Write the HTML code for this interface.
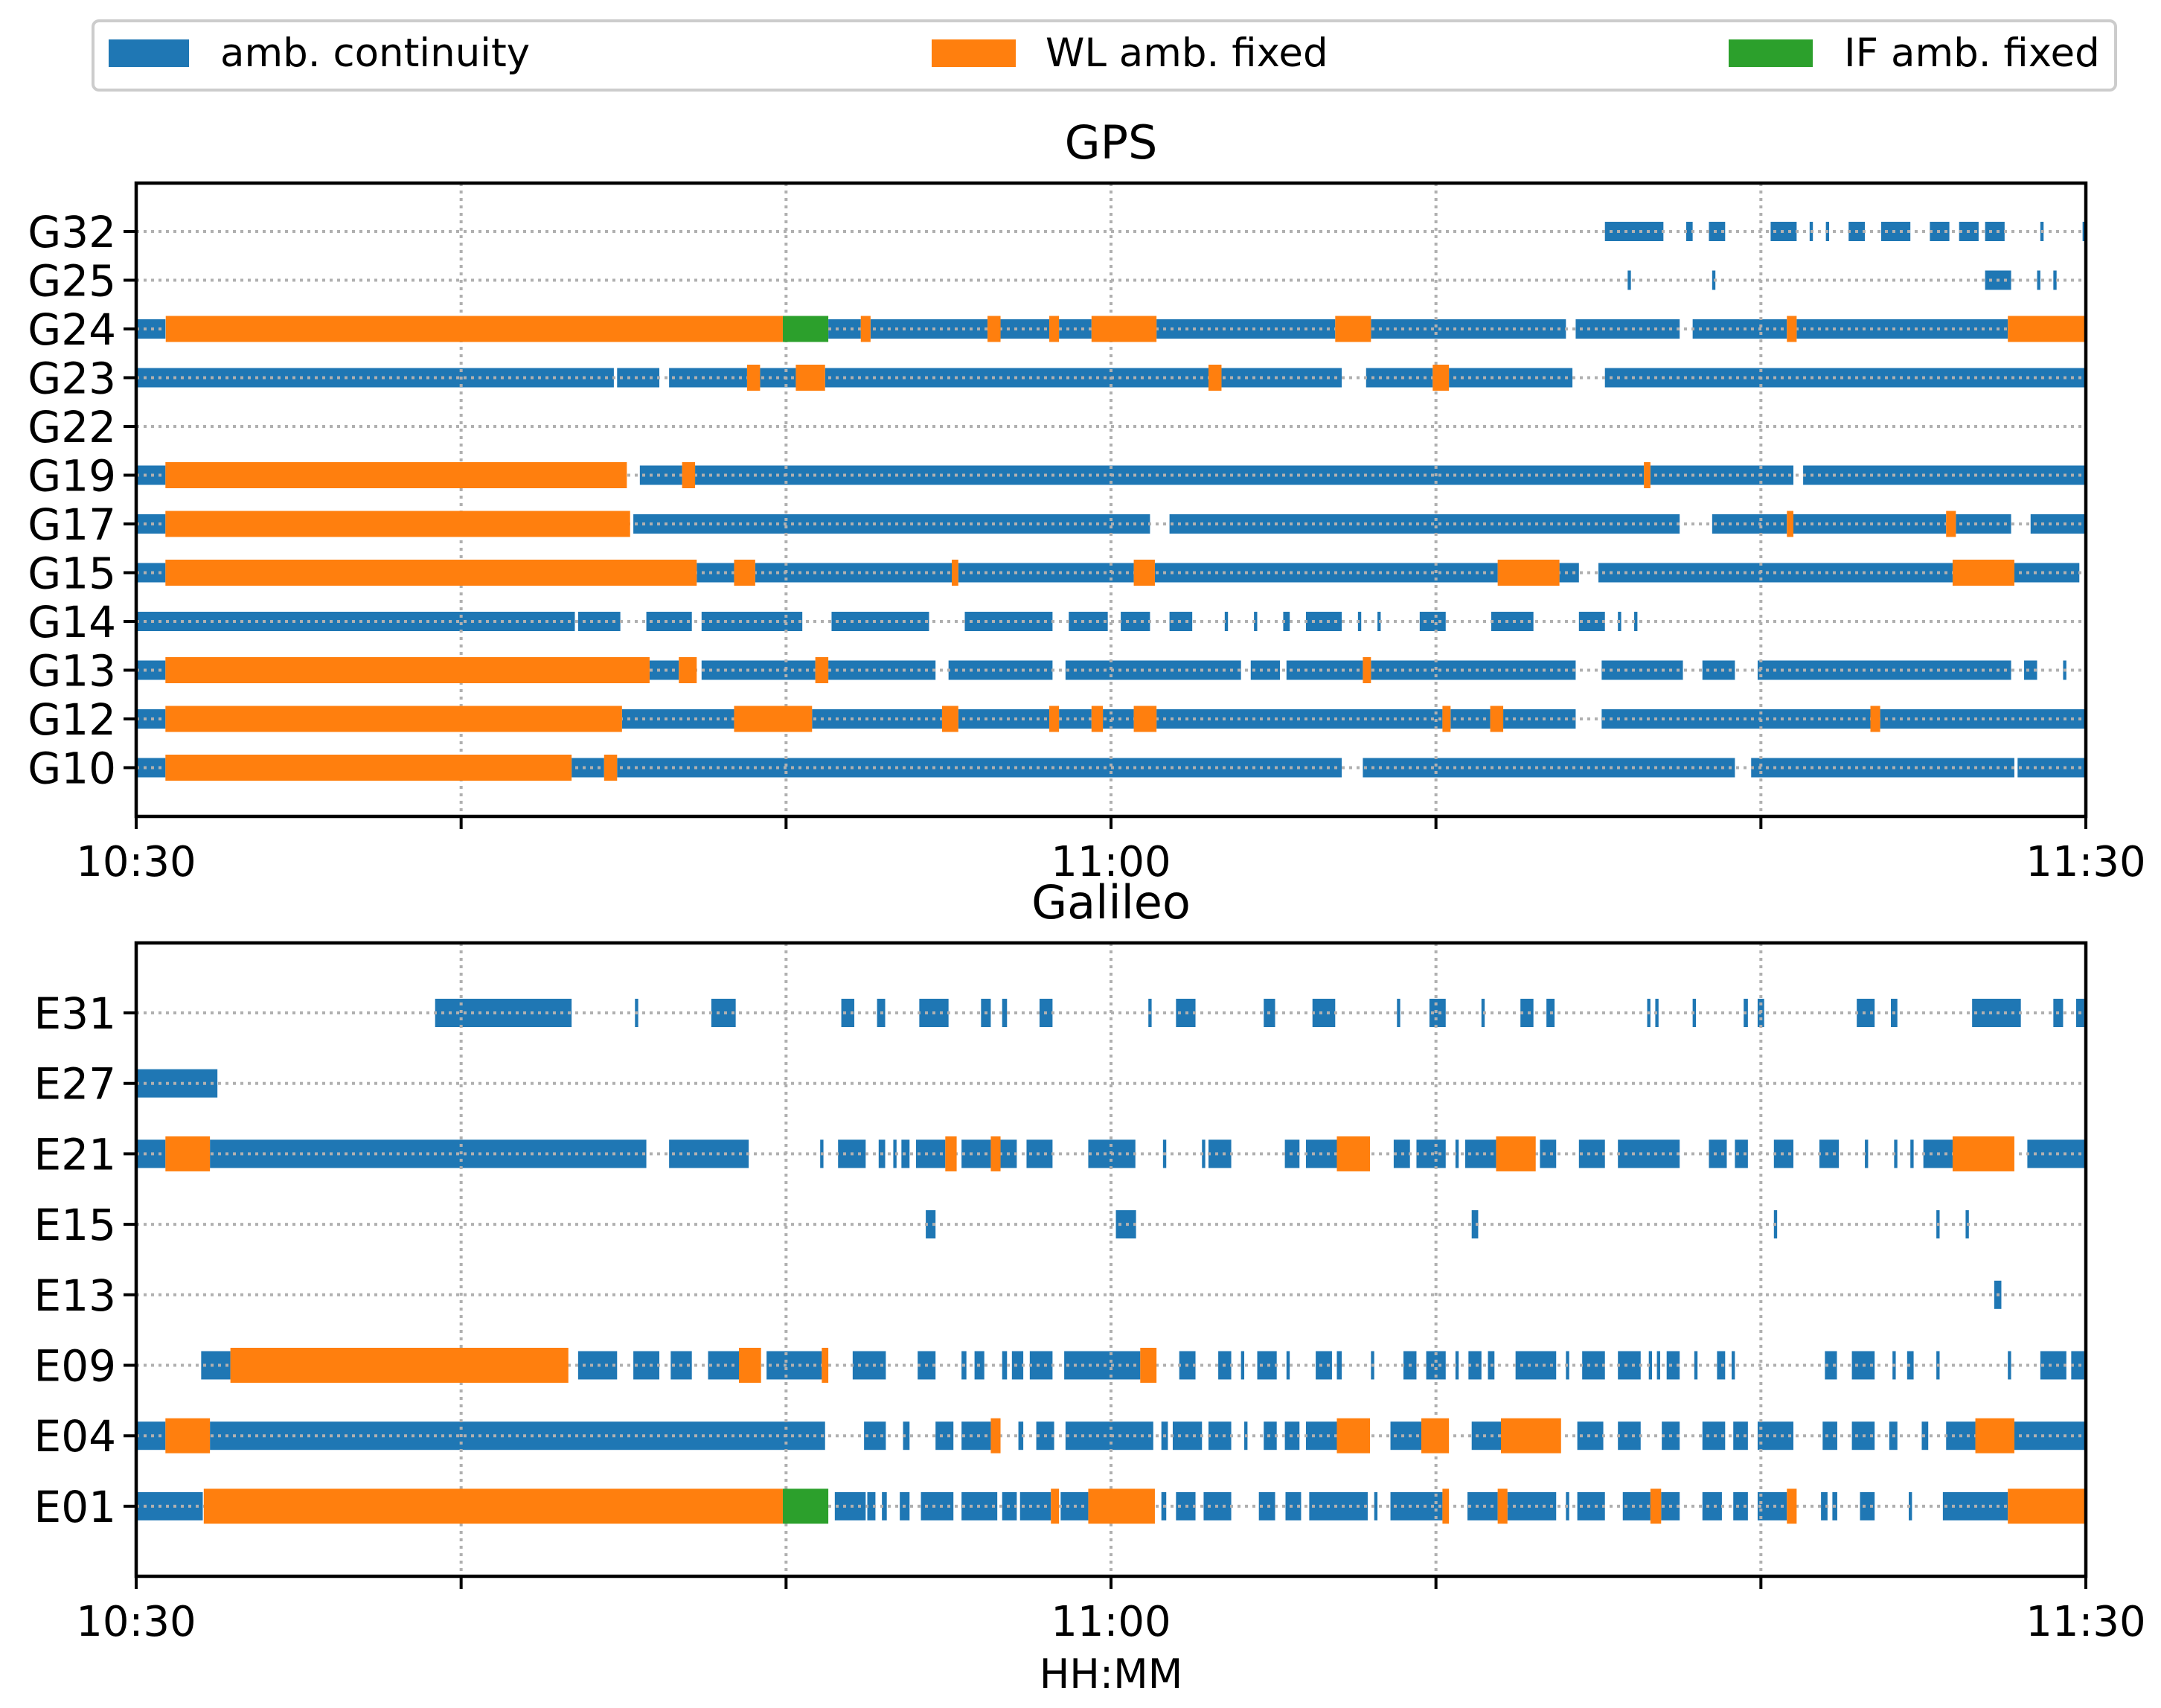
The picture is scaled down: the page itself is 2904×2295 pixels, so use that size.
<!DOCTYPE html>
<html><head><meta charset="utf-8">
<style>
html,body{margin:0;padding:0;background:#fff;}
svg{display:block;font-family:"DejaVu Sans","Liberation Sans",sans-serif;}
</style></head>
<body>
<svg id="chart" width="2904" height="2295" viewBox="0 0 2904 2295" xmlns="http://www.w3.org/2000/svg">
  <g>
    <rect x="125" y="28" width="2718" height="93" rx="8" fill="#fff" stroke="#cccccc" stroke-width="4"/>
    <rect x="146" y="53" width="108" height="37" fill="#1f77b4"/>
    <text x="296" y="89" font-size="53">amb. continuity</text>
    <rect x="1252" y="53" width="113" height="37" fill="#ff7f0e"/>
    <text x="1405" y="89" font-size="53">WL amb. fixed</text>
    <rect x="2323" y="53" width="113" height="37" fill="#2ca02c"/>
    <text x="2478" y="89" font-size="53">IF amb. fixed</text>
  </g>
  <text x="1493" y="213" font-size="62" text-anchor="middle">GPS</text>
  <text x="1493" y="1234" font-size="62" text-anchor="middle">Galileo</text>
  <text x="1493" y="2268" font-size="54" text-anchor="middle">HH:MM</text>
  <g id="gps"></g>
  <g id="gal"></g>
</svg>
<script>
const xTicks = [0,10,20,30,40,50,60];
const xTickLabels = {0:"10:30",30:"11:00",60:"11:30"};
const gpsSats = ["G32","G25","G24","G23","G22","G19","G17","G15","G14","G13","G12","G10"];
const gpsBlue = {
G32:[[45.2,47.0],[47.7,47.9],[48.4,48.9],[50.3,51.1],[51.5,51.6],[52.0,52.1],[52.7,53.2],[53.7,54.6],[55.2,55.8],[56.1,56.7],[56.9,57.5],[58.6,58.7],[59.9,60]],
G25:[[45.9,46.0],[48.5,48.6],[56.9,57.7],[58.5,58.6],[59.0,59.1]],
G24:[[0,0.9],[21.3,22.3],[22.6,26.2],[26.6,28.1],[28.4,29.4],[31.4,36.9],[38,44.0],[44.3,47.5],[47.9,50.8],[51.1,57.6]],
G23:[[0,14.7],[14.8,16.1],[16.4,18.8],[19.2,20.3],[21.2,33.0],[33.4,37.1],[37.85,39.9],[40.4,44.2],[45.2,60]],
G22:[],
G19:[[0,0.9],[15.5,16.8],[17.2,46.4],[46.6,51.0],[51.3,60]],
G17:[[0,0.9],[15.3,31.2],[31.8,47.5],[48.5,50.8],[51.0,55.7],[56.0,57.7],[58.3,60]],
G15:[[0,0.9],[17.25,18.4],[19.05,25.1],[25.3,30.7],[31.35,41.9],[43.8,44.4],[45.0,55.9],[57.8,59.8]],
G14:[[0,13.5],[13.6,14.9],[15.7,17.1],[17.4,20.5],[21.4,24.4],[25.5,28.2],[28.7,29.9],[30.3,31.2],[31.8,32.5],[33.5,33.6],[34.4,34.5],[35.3,35.5],[36.0,37.1],[37.6,37.7],[38.2,38.3],[39.5,40.3],[41.7,43.0],[44.4,45.2],[45.6,45.7],[46.1,46.2]],
G13:[[0,0.9],[15.8,16.7],[17.4,20.9],[21.3,24.6],[25.0,28.2],[28.6,34.0],[34.3,35.2],[35.4,37.75],[38.0,44.3],[45.1,47.6],[48.2,49.2],[49.9,57.7],[58.1,58.5],[59.3,59.4]],
G12:[[0,0.9],[14.95,18.4],[20.8,24.8],[25.3,28.1],[28.4,29.4],[29.75,30.7],[31.4,40.2],[40.45,41.67],[42.07,44.3],[45.1,53.37],[53.67,60]],
G10:[[0,0.9],[13.4,14.4],[14.8,37.1],[37.75,49.2],[49.7,57.8],[57.9,60]]
};
const gpsWL = {
G24:[[0.91,19.9],[22.3,22.6],[26.2,26.6],[28.1,28.4],[29.4,31.4],[36.9,38.0],[50.8,51.1],[57.6,60]],
G23:[[18.8,19.2],[20.3,21.2],[33.0,33.4],[39.9,40.4]],
G19:[[0.9,15.1],[16.8,17.2],[46.4,46.6]],
G17:[[0.9,15.2],[50.8,51.0],[55.7,56.0]],
G15:[[0.9,17.25],[18.4,19.05],[25.1,25.3],[30.7,31.35],[41.9,43.8],[55.9,57.8]],
G13:[[0.9,15.8],[16.7,17.25],[20.9,21.3],[37.75,38.0]],
G12:[[0.9,14.95],[18.4,20.8],[24.8,25.3],[28.1,28.4],[29.4,29.75],[30.7,31.4],[40.2,40.45],[41.67,42.07],[53.37,53.67]],
G10:[[0.9,13.4],[14.4,14.8]]
};
const gpsIF = {G24:[[19.9,21.3]]};

const galSats = ["E31","E27","E21","E15","E13","E09","E04","E01"];
const galBlue = {
E31:[[9.2,13.4],[15.35,15.45],[17.7,18.45],[21.7,22.1],[22.8,23.05],[24.1,25.0],[26.0,26.3],[26.65,26.8],[27.8,28.2],[31.15,31.25],[32.0,32.6],[34.7,35.05],[36.2,36.9],[38.8,38.9],[39.8,40.3],[41.4,41.5],[42.6,43.0],[43.4,43.65],[46.5,46.6],[46.75,46.85],[47.9,48.0],[49.47,49.6],[49.9,50.1],[52.95,53.5],[54.0,54.2],[56.5,58.0],[59.0,59.3],[59.7,59.95]],
E27:[[0,2.5]],
E21:[[0,0.9],[2.27,15.7],[16.4,18.85],[21.05,21.15],[21.6,22.45],[22.85,23.05],[23.3,23.4],[23.55,23.8],[24.0,24.9],[25.4,26.3],[26.6,27.1],[27.4,28.2],[29.3,30.75],[31.6,31.7],[32.8,32.9],[33.0,33.7],[35.35,35.8],[36.0,36.95],[38.7,39.2],[39.4,40.3],[40.6,40.7],[40.9,41.85],[43.2,43.7],[44.4,45.2],[45.6,47.5],[48.4,48.95],[49.2,49.6],[50.4,51.0],[51.8,52.4],[53.2,53.3],[54.1,54.2],[54.6,54.7],[55.0,55.9],[58.2,60]],
E15:[[24.3,24.6],[30.15,30.77],[41.1,41.3],[50.4,50.5],[55.4,55.5],[56.3,56.4]],
E13:[[57.18,57.4]],
E09:[[2.0,2.9],[13.6,14.8],[15.3,16.1],[16.45,17.1],[17.6,18.55],[19.4,21.1],[22.05,23.07],[24.05,24.6],[25.4,25.55],[25.8,26.1],[26.65,26.8],[26.95,27.3],[27.5,28.2],[28.56,30.0],[30.0,30.9],[32.1,32.6],[33.3,33.7],[34.0,34.1],[34.5,35.1],[35.4,35.5],[36.3,36.8],[36.95,37.1],[38.0,38.1],[39.0,39.4],[39.7,40.3],[40.6,40.7],[41.0,41.4],[41.6,41.8],[42.45,43.7],[44.0,44.1],[44.5,45.2],[45.6,46.3],[46.55,46.65],[46.8,46.9],[47.1,47.5],[47.95,48.05],[48.65,48.9],[49.1,49.2],[51.97,52.34],[52.8,53.5],[54.05,54.15],[54.5,54.7],[55.4,55.5],[57.6,57.7],[58.6,59.4],[59.55,59.95]],
E04:[[0,0.9],[2.27,21.2],[22.4,23.07],[23.6,23.8],[24.6,25.15],[25.4,26.3],[27.15,27.3],[27.7,28.25],[28.6,31.3],[31.55,31.75],[31.9,32.8],[33.0,33.7],[34.1,34.2],[34.7,35.1],[35.35,35.8],[36.0,36.95],[38.6,39.55],[41.1,42.0],[44.35,45.15],[45.6,46.3],[46.95,47.5],[48.2,48.9],[49.15,49.6],[49.9,51.0],[51.9,52.35],[52.8,53.5],[53.95,54.2],[54.95,55.15],[55.7,56.6],[57.8,60]],
E01:[[0,2.05],[21.5,22.45],[22.5,22.75],[22.95,23.1],[23.5,23.8],[24.15,25.15],[25.4,26.5],[26.65,27.1],[27.2,28.15],[28.45,29.3],[31.55,31.7],[32.0,32.6],[32.85,33.7],[34.55,35.05],[35.37,35.85],[36.1,37.9],[38.1,38.2],[38.6,40.2],[40.97,41.9],[42.2,43.7],[44.0,44.1],[44.35,45.2],[45.75,46.6],[46.93,47.5],[48.2,48.8],[49.15,49.6],[49.9,50.8],[51.85,52.05],[52.2,52.35],[53.05,53.5],[54.55,54.65],[55.6,57.6]]
};
const galWL = {
E21:[[0.9,2.27],[24.9,25.25],[26.3,26.6],[36.95,37.97],[41.85,43.07],[55.9,57.8]],
E09:[[2.9,13.3],[18.55,19.23],[21.1,21.3],[30.9,31.4]],
E04:[[0.9,2.27],[26.3,26.6],[36.95,37.97],[39.55,40.4],[42.0,43.85],[56.6,57.8]],
E01:[[2.08,19.9],[28.15,28.4],[29.3,31.35],[40.2,40.4],[41.9,42.2],[46.6,46.93],[50.8,51.1],[57.6,60]]
};
const galIF = {E01:[[19.9,21.3]]};

const NS="http://www.w3.org/2000/svg";
const X0=183, X1=2803;
function xScale(m){return X0+(X1-X0)*m/60;}
function mk(parent,tag,attrs){const e=document.createElementNS(NS,tag);for(const k in attrs)e.setAttribute(k,attrs[k]);parent.appendChild(e);return e;}

function panel(gid,sats,blue,wl,ifx,top,bottom,y0,step,hb,hf,pname){
  const g=document.getElementById(gid);
  const yOf=i=>y0+i*step;
  sats.forEach((s,i)=>{(blue[s]||[]).forEach(([a,b])=>{
    const r=mk(g,'rect',{x:xScale(a),y:yOf(i)-hb/2,width:Math.max(xScale(b)-xScale(a),2.5),height:hb,fill:'#1f77b4'});
    
    
  });});
  xTicks.slice(1,-1).forEach(t=>{
    const l=mk(g,'line',{x1:xScale(t),x2:xScale(t),y1:top,y2:bottom,stroke:'#b0b0b0','stroke-width':4,'stroke-dasharray':'4 6'});
    
    
  });
  sats.forEach((s,i)=>{
    const l=mk(g,'line',{x1:X0,x2:X1,y1:yOf(i),y2:yOf(i),stroke:'#b0b0b0','stroke-width':4,'stroke-dasharray':'4 6'});
    
    
  });
  [[wl,'#ff7f0e','wl-fixed-bar'],[ifx,'#2ca02c','if-fixed-bar']].forEach(([d,c,n])=>{
    sats.forEach((s,i)=>{(d[s]||[]).forEach(([a,b])=>{
      const r=mk(g,'rect',{x:xScale(a),y:yOf(i)-hf/2,width:Math.max(xScale(b)-xScale(a),3),height:hf,fill:c});
      
      
    });});
  });
  const f=mk(g,'rect',{x:X0,y:top,width:X1-X0,height:bottom-top,fill:'none',stroke:'#000','stroke-width':4.5});
  
  
  sats.forEach((s,i)=>{
    const t=mk(g,'line',{x1:X0-17,x2:X0,y1:yOf(i),y2:yOf(i),stroke:'#000','stroke-width':4});
    
    
    const tx=mk(g,'text',{x:X0-27,y:yOf(i)+21,'font-size':58,'text-anchor':'end'});
    tx.textContent=s;
    
    
  });
  xTicks.forEach(t=>{
    const l=mk(g,'line',{x1:xScale(t),x2:xScale(t),y1:bottom,y2:bottom+17,stroke:'#000','stroke-width':4});
    
    
    if(xTickLabels[t]){
      const tx=mk(g,'text',{x:xScale(t),y:bottom+80,'font-size':56,'text-anchor':'middle'});
      tx.textContent=xTickLabels[t];
      
      
    }
  });
}
panel('gps',gpsSats,gpsBlue,gpsWL,gpsIF,246,1097,311,65.5,26,35,'gps');
panel('gal',galSats,galBlue,galWL,galIF,1267,2118,1361,94.7,38,47,'galileo');
</script>
</body></html>
